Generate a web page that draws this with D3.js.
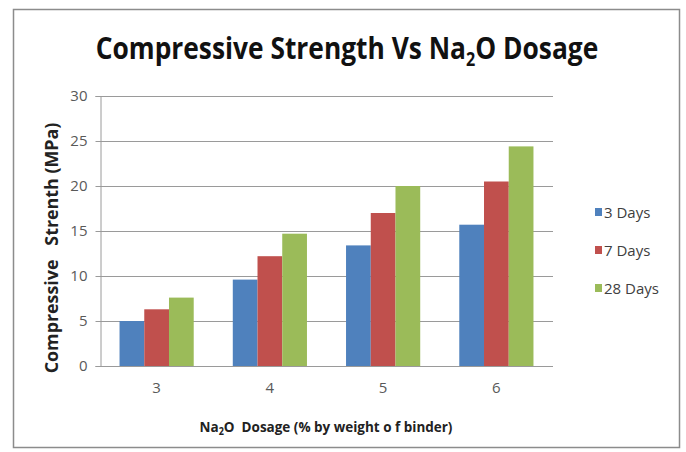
<!DOCTYPE html>
<html>
<head>
<meta charset="utf-8">
<script src="https://cdn.jsdelivr.net/npm/d3@7"></script>
<style>
  html, body { margin: 0; padding: 0; background: #fff; }
  svg { display: block; }
  text { font-family: "Liberation Sans Narrow", "Open Sans", "Liberation Sans", sans-serif; }
</style>
</head>
<body>
<svg id="chart" width="686" height="452"></svg>
<script>
const categories = ["3", "4", "5", "6"];
const seriesNames = ["3 Days", "7 Days", "28 Days"];
const days3 = [5.0, 9.6, 13.4, 15.7];
const days7 = [6.3, 12.2, 17.0, 20.5];
const days28 = [7.6, 14.7, 20.0, 24.4];
const yTicks = [0, 5, 10, 15, 20, 25, 30];
const colors = ["#4F81BD", "#C0504D", "#9BBB59"];

const seriesValues = [days3, days7, days28];
const svg = d3.select("#chart");

// outer border
svg.append("rect").attr("x", 13.5).attr("y", 9.5).attr("width", 666).attr("height", 438)
  .attr("fill", "#fff").attr("stroke", "#8c8c8c").attr("stroke-width", 1.5);

const plotLeft = 100, plotRight = 553, plotTop = 96, plotBottom = 366;

const x = d3.scaleBand().domain(categories).range([plotLeft, plotRight]).paddingInner(0.345).paddingOuter(0.1725);
const x1 = d3.scaleBand().domain(seriesNames).range([0, x.bandwidth()]);
const y = d3.scaleLinear().domain([0, 30]).range([plotBottom, plotTop]);

// gridlines
svg.append("g").selectAll("line").data(yTicks.filter(d => d > 0)).join("line")
  .attr("x1", plotLeft).attr("x2", plotRight)
  .attr("y1", d => y(d) + 0.5).attr("y2", d => y(d) + 0.5)
  .attr("stroke", "#9a9a9a").attr("stroke-width", 1);

// bars
const groups = svg.append("g").selectAll("g").data(categories).join("g")
  .attr("transform", d => `translate(${x(d)},0)`);
groups.selectAll("rect").data((c, i) => seriesNames.map((s, j) => ({ s, j, v: seriesValues[j][i] })))
  .join("rect")
  .attr("x", d => x1(d.s)).attr("width", x1.bandwidth())
  .attr("y", d => y(d.v)).attr("height", d => y(0) - y(d.v))
  .attr("fill", d => colors[d.j]);

// y axis
const yAxis = d3.axisLeft(y).tickValues(yTicks).tickSize(5).tickPadding(8);
const yg = svg.append("g").attr("transform", `translate(${plotLeft + 0.5},0)`).call(yAxis);
yg.select(".domain").attr("stroke", "#9a9a9a");
yg.selectAll(".tick line").attr("stroke", "#9a9a9a");
yg.selectAll(".tick text").attr("fill", "#595959").style("font-size", "15px");

// x axis
const xAxis = d3.axisBottom(x).tickSize(0).tickPadding(16);
const xg = svg.append("g").attr("transform", `translate(0,${plotBottom + 0.5})`).call(xAxis);
xg.select(".domain").attr("stroke", "#9a9a9a").attr("d", `M${plotLeft},0H${plotRight}`);
xg.selectAll(".tick text").attr("fill", "#595959").style("font-size", "15px");

// title
const title = svg.append("g").attr("transform", "translate(347,59) scale(0.85,1)")
  .append("text").attr("x", 0).attr("y", 0).attr("text-anchor", "middle")
  .attr("fill", "#111").style("font-size", "31px").style("font-weight", "bold");
title.append("tspan").text("Compressive Strength Vs Na");
title.append("tspan").text("2").style("font-size", "19px").attr("dy", 7);
title.append("tspan").text("O Dosage").attr("dy", -7);

// y axis title
svg.append("text").attr("transform", "translate(58,248) rotate(-90) scale(1.05,1)").attr("text-anchor", "middle")
  .attr("fill", "#222").style("font-size", "17px").style("font-weight", "bold")
  .attr("xml:space", "preserve")
  .text("Compressive   Strenth (MPa)");

// x axis title
const xt = svg.append("g").attr("transform", "translate(326,432) scale(0.9,1)")
  .append("text").attr("x", 0).attr("y", 0).attr("text-anchor", "middle")
  .attr("fill", "#222").style("font-size", "15px").style("font-weight", "bold")
  .attr("xml:space", "preserve");
xt.append("tspan").text("Na");
xt.append("tspan").text("2").style("font-size", "10px").attr("dy", 3);
xt.append("tspan").text("O  Dosage (% by weight o f binder)").attr("dy", -3);

// legend
const lg = svg.append("g").selectAll("g").data(seriesNames).join("g")
  .attr("transform", (d, i) => `translate(595,${212 + i * 38})`);
lg.append("rect").attr("x", 0).attr("y", -4).attr("width", 7).attr("height", 8)
  .attr("fill", (d, i) => colors[i]);
lg.append("text").attr("x", 9).attr("y", 5.5).attr("fill", "#404040")
  .style("font-size", "15px").text(d => d);
</script>
</body>
</html>
